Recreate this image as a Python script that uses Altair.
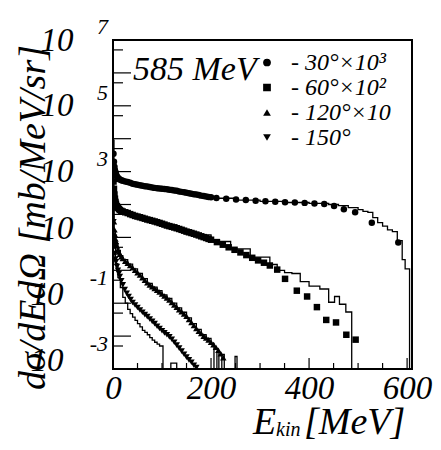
import altair as alt
import pandas as pd

# ---------------- data ----------------
SERIES = ["- 30°×10³", "- 60°×10²", "- 120°×10", "- 150°"]
SHAPES = ["circle", "square", "triangle-up", "triangle-down"]
ENERGY_LABEL = ["585 MeV"]

E30 = [1, 2, 3, 4, 5, 6, 8, 10, 12, 14, 17, 20, 25, 30, 35, 40, 45, 50, 55, 60,
       65, 70, 75, 80, 85, 90, 95, 100, 105, 110, 115, 120, 125, 130, 135, 140, 145, 150, 155, 160,
       165, 170, 175, 180, 185, 190, 195, 200, 211, 231, 251, 271, 291, 311, 331, 351, 371, 391,
       411, 431, 451, 471, 494, 528, 582]
V30 = [3500, 2000, 1400, 1100, 950, 850, 720, 650, 610, 580, 550, 530, 500, 480, 455, 430, 415, 400, 385, 370,
       360, 350, 340, 330, 320, 310, 305, 300, 295, 290, 282, 275, 268, 260, 250, 242, 235, 228, 220, 213,
       206, 200, 193, 186, 180, 175, 170, 165, 157, 150, 143, 137, 131, 126, 122, 118, 115, 112,
       108, 103, 90, 72, 58, 28, 7]

E60 = [1, 2, 3, 4, 5, 6, 8, 10, 12, 14, 17, 20, 25, 30, 35, 40, 45, 50, 55, 60,
       65, 70, 75, 80, 85, 90, 95, 100, 105, 110, 115, 120, 125, 130, 135, 140, 145, 150, 155, 160,
       165, 170, 175, 180, 185, 190, 195, 200, 212, 224, 236, 248, 260, 272, 284, 296, 308, 320,
       335, 351, 375, 396, 416, 435, 455, 476, 495]
V60 = [500, 300, 200, 150, 120, 105, 90, 80, 73, 68, 64, 61, 58, 55, 51, 48, 45, 43, 41, 39,
       37, 35, 33.5, 32, 30.5, 29, 27.5, 26, 24.5, 23, 22, 21, 20, 19, 18, 17, 16, 15, 14.3, 13.6,
       12.9, 12.2, 11.5, 10.8, 10.2, 9.6, 9.0, 8.5, 7.2, 6.0, 5.0, 4.2, 3.5, 2.9, 2.4, 2.0, 1.7, 1.4,
       1.05, 0.55, 0.24, 0.16, 0.076, 0.031, 0.026, 0.011, 0.0078]

E120 = [1, 2, 3, 4, 5, 6, 8, 10, 12, 14, 17, 20, 25, 30, 35, 40, 45, 50, 55, 60,
        65, 70, 75, 80, 85, 90, 95, 100, 105, 110, 115, 120, 125, 130, 135, 140, 145, 150, 155, 160,
        165, 170, 175, 180, 185, 190, 195, 200, 205, 210, 215, 220, 225]
V120 = [80, 30, 17, 12, 9, 7.5, 5.5, 4.3, 3.6, 3.1, 2.6, 2.3, 1.9, 1.65, 1.4, 1.2, 1.0, 0.85, 0.72, 0.6,
        0.5, 0.42, 0.36, 0.32, 0.28, 0.25, 0.22, 0.19, 0.165, 0.145, 0.125, 0.105, 0.088, 0.075, 0.064,
        0.055, 0.047, 0.04, 0.032, 0.026, 0.021, 0.017, 0.014, 0.012, 0.01, 0.0088, 0.0077, 0.0065,
        0.0055, 0.0046, 0.0037, 0.0029, 0.0022]

E150 = [1, 2, 3, 4, 5, 6, 8, 10, 12, 14, 17, 20, 24, 28, 32, 36, 40, 45, 50, 55,
        60, 65, 70, 75, 80, 85, 90, 95, 100, 105, 110, 115, 120, 125, 130, 135, 140, 145, 150, 155,
        160, 165, 170]
V150 = [30, 10, 5.5, 3.2, 2.2, 1.8, 1.3, 1.0, 0.8, 0.65, 0.48, 0.36, 0.26, 0.2, 0.16, 0.13, 0.105, 0.088,
        0.074, 0.062, 0.053, 0.045, 0.039, 0.033, 0.028, 0.024, 0.02, 0.017, 0.0145, 0.0125, 0.011,
        0.0095, 0.008, 0.0065, 0.0053, 0.0043, 0.0035, 0.0028, 0.0023, 0.0019, 0.0016, 0.0013, 0.0011]

# model histograms: bin edges and bin contents
H30_EDGES = [0, 2, 5, 10, 20, 40, 60, 80, 100, 130, 160, 200, 250, 300, 350, 400, 440, 460, 480, 500,
             510, 520, 530, 540, 550, 560, 570, 580, 590, 596, 605]
H30_VALS = [9000, 1500, 800, 580, 480, 390, 340, 305, 280, 235, 190, 155, 135, 124, 115, 108, 100, 92, 80,
            70, 62, 58, 40, 28, 22, 17, 15, 8, 2.1, 1.1]

H60_EDGES = [0, 2, 5, 10, 20, 40, 60, 80, 100, 130, 160, 200, 240, 280, 320, 335, 350, 365, 382, 400,
             422, 440, 452, 462, 475, 487]
H60_VALS = [1200, 220, 100, 70, 57, 45, 36, 30, 24, 17, 12, 7.5, 4.5, 2.5, 1.5, 1.0, 0.85, 0.8, 0.45,
            0.33, 0.27, 0.107, 0.16, 0.093, 0.054]

H120_EDGES = [0, 2, 5, 10, 15, 20, 30, 40, 50, 60, 70, 80, 90, 100, 110, 120, 130, 140, 150, 160, 170,
              180, 190, 200, 206]
H120_VALS = [250, 16, 6.5, 4, 2.8, 2.1, 1.55, 1.1, 0.8, 0.56, 0.4, 0.31, 0.24, 0.18, 0.14, 0.1, 0.072,
             0.053, 0.036, 0.024, 0.016, 0.011, 0.0085, 0.006]
H120_SPIKE_LO = [212, 222, 249]
H120_SPIKE_HI = [216, 227, 253]
H120_SPIKE_V = [0.0034, 0.0028, 0.0024]

H150_EDGES = [0, 2, 5, 10, 15, 20, 25, 30, 35, 40, 45, 50, 55, 60, 65, 70, 75, 80, 85, 90, 95, 102]
H150_VALS = [150, 6, 1.6, 0.6, 0.3, 0.15, 0.1, 0.065, 0.048, 0.038, 0.03, 0.024, 0.019, 0.015, 0.013,
             0.011, 0.009, 0.0075, 0.0065, 0.0057, 0.005]
H150_SPIKE_LO = [118]
H150_SPIKE_HI = [130]
H150_SPIKE_V = [0.0015]

# axis tick values and labels
Y_LABEL_VALUES = [1e-3, 1e-1, 10, 1e3, 1e5, 1e7]
Y_EXP_POS_V = [1e7, 1e5, 1e3]
Y_EXP_POS_T = ["7", "5", "3"]
Y_EXP_NEG_V = [1e-1, 1e-3]
Y_EXP_NEG_T = ["-1", "-3"]
Y_MAJOR = [1e-3, 1e-2, 1e-1, 1, 10, 1e2, 1e3, 1e4, 1e5, 1e6, 1e7]
Y_MINOR = [5e-3, 5e-2, 5e-1, 5, 50, 5e2, 5e3, 5e4, 5e5, 5e6]
X_LABEL_VALUES = [0, 200, 400, 600]
X_MAJOR = [200, 400, 600]
X_MINOR = [50, 100, 150, 250, 300, 350, 450, 500, 550]
X_TITLE_MAIN = ["E"]
X_TITLE_SUB = ["kin"]
X_TITLE_UNIT = ["[MeV]"]
Y_TITLE = "dσ/dEdΩ [mb/MeV/sr]"

# ---------------- build tables ----------------
rows = []
for name, es, vs in zip(SERIES, [E30, E60, E120, E150], [V30, V60, V120, V150]):
    for e, v in zip(es, vs):
        rows.append({"E": e, "v": v, "series": name})
pts = pd.DataFrame(rows)

TINY = 1e-6
hrows = []


def add_hist(grp, edges, vals, rise=False):
    k = 0
    if rise:
        hrows.append({"E": edges[0], "v": TINY, "grp": grp, "o": k})
        k += 1
    for e, v in zip(edges[:-1], vals):
        hrows.append({"E": e, "v": v, "grp": grp, "o": k})
        k += 1
    hrows.append({"E": edges[-1], "v": vals[-1], "grp": grp, "o": k})
    hrows.append({"E": edges[-1], "v": TINY, "grp": grp, "o": k + 1})


add_hist("h30", H30_EDGES, H30_VALS)
add_hist("h60", H60_EDGES, H60_VALS)
add_hist("h120", H120_EDGES, H120_VALS)
add_hist("h150", H150_EDGES, H150_VALS)
for i, (lo, hi, v) in enumerate(zip(H120_SPIKE_LO, H120_SPIKE_HI, H120_SPIKE_V)):
    add_hist(f"s120_{i}", [lo, hi], [v], rise=True)
for i, (lo, hi, v) in enumerate(zip(H150_SPIKE_LO, H150_SPIKE_HI, H150_SPIKE_V)):
    add_hist(f"s150_{i}", [lo, hi], [v], rise=True)
hdf = pd.DataFrame(hrows)

# ---------------- chart ----------------
W, H = 299, 329
SERIF = "Liberation Serif"

xscale = alt.Scale(domain=[0, 610], nice=False, zero=False)
yscale = alt.Scale(type="log", domain=[1e-3, 1e7], nice=False)

xaxis = alt.Axis(
    values=X_LABEL_VALUES, format="d", ticks=False, domain=False, grid=False,
    labelFont=SERIF, labelFontStyle="italic", labelFontSize=33, labelColor="black",
    labelPadding=3, labelFlush=False, labelOverlap=False, title=None,
)
yaxis = alt.Axis(
    values=Y_LABEL_VALUES, labelExpr="'10'", ticks=False, domain=False, grid=False,
    labelFont=SERIF, labelFontStyle="italic", labelFontSize=33, labelColor="black",
    labelPadding={"condition": {"test": "datum.value < 1", "value": 50}, "value": 40},
    labelOffset={"condition": {"test": "datum.value < 100", "value": -9}, "value": 0},
    labelOverlap=False, labelFlush=False,
    title=Y_TITLE, titleFont=SERIF, titleFontStyle="italic",
    titleFontWeight="normal", titleFontSize=38, titleColor="black",
    titleX=-69, titleY=177, titleAngle=270, titleAlign="center", titleBaseline="alphabetic",
)


def X(field="E"):
    return alt.X(f"{field}:Q", scale=xscale, axis=xaxis)


def Y(field="v"):
    return alt.Y(f"{field}:Q", scale=yscale, axis=yaxis)


hist = alt.Chart(hdf).mark_line(
    interpolate="step-after", color="black", strokeWidth=1.3, clip=True
).encode(x=X(), y=Y(), detail="grp:N", order="o:Q")

points = alt.Chart(pts).mark_point(
    filled=True, color="black", opacity=1, size=42, clip=True
).encode(
    x=X(), y=Y(),
    shape=alt.Shape(
        "series:N",
        scale=alt.Scale(domain=SERIES, range=SHAPES),
        legend=alt.Legend(
            title=None, orient="none", legendX=142, legendY=12, padding=0,
            labelFont=SERIF, labelFontStyle="italic", labelFontSize=24, labelColor="black",
            labelOffset=12, labelLimit=300, rowPadding=0, clipHeight=21,
            symbolSize=60, symbolFillColor="black", symbolStrokeColor="black",
        ),
    ),
)

ytick_major = alt.Chart(pd.DataFrame({"v": Y_MAJOR})).mark_rule(color="black", strokeWidth=1.2).encode(
    y=Y(), x=alt.value(0), x2=alt.value(18)
)
ytick_minor = alt.Chart(pd.DataFrame({"v": Y_MINOR})).mark_rule(color="black", strokeWidth=1.2).encode(
    y=Y(), x=alt.value(0), x2=alt.value(10)
)
xtick_major = alt.Chart(pd.DataFrame({"E": X_MAJOR})).mark_rule(color="black", strokeWidth=1.2).encode(
    x=X(), y=alt.value(H), y2=alt.value(H - 11)
)
xtick_minor = alt.Chart(pd.DataFrame({"E": X_MINOR})).mark_rule(color="black", strokeWidth=1.2).encode(
    x=X(), y=alt.value(H), y2=alt.value(H - 6)
)

exp_pos = alt.Chart(pd.DataFrame({"v": Y_EXP_POS_V, "t": Y_EXP_POS_T})).mark_text(
    align="right", baseline="middle", dy=-13, font=SERIF, fontStyle="italic", fontSize=22, color="black"
).encode(y=Y(), x=alt.value(-5), text="t:N")
exp_neg = alt.Chart(pd.DataFrame({"v": Y_EXP_NEG_V, "t": Y_EXP_NEG_T})).mark_text(
    align="right", baseline="middle", dy=-25, font=SERIF, fontStyle="italic", fontSize=22, color="black"
).encode(y=Y(), x=alt.value(-5), text="t:N")

energy = alt.Chart(pd.DataFrame({"t": ENERGY_LABEL})).mark_text(
    align="left", baseline="alphabetic", font=SERIF, fontStyle="italic", fontSize=34, color="black"
).encode(x=alt.value(20), y=alt.value(40), text="t:N")


def title_text(values, x, y, size):
    return alt.Chart(pd.DataFrame({"t": values})).mark_text(
        align="left", baseline="alphabetic", font=SERIF, fontStyle="italic", fontSize=size, color="black"
    ).encode(x=alt.value(x), y=alt.value(y), text="t:N")


xt_main = title_text(X_TITLE_MAIN, 140, 394, 38)
xt_sub = title_text(X_TITLE_SUB, 163, 396, 20)
xt_unit = title_text(X_TITLE_UNIT, 191, 394, 38)

chart = alt.layer(
    hist, points, ytick_major, ytick_minor, xtick_major, xtick_minor, exp_pos, exp_neg, energy,
    xt_main, xt_sub, xt_unit,
).properties(
    width=W, height=H,
    padding={"left": 105, "top": 32, "right": 21, "bottom": 73},
    autosize=alt.AutoSizeParams(type="none"),
).configure_view(stroke="black", strokeWidth=2)

chart.save("out.html", embed_options={"renderer": "svg", "actions": False})
